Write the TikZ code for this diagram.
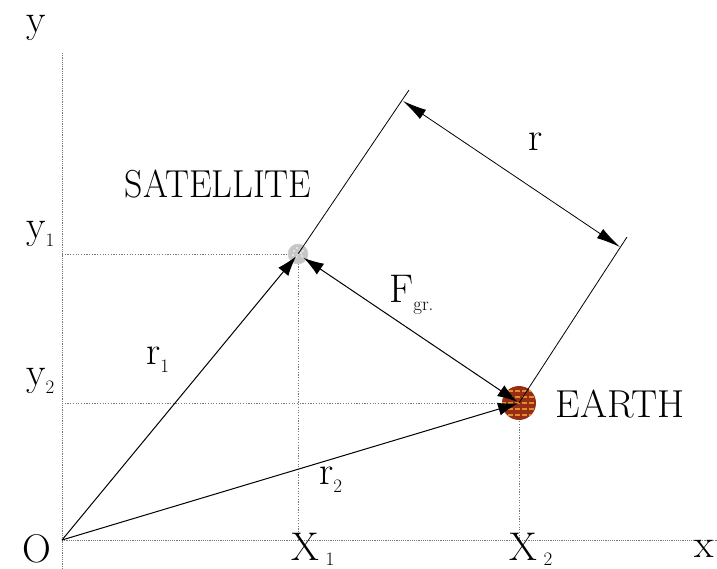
\documentclass[tikz,border=0pt]{standalone}
\usetikzlibrary{arrows.meta,calc}
\definecolor{earthred}{RGB}{150,45,20}
\definecolor{earthorange}{RGB}{225,140,45}
\definecolor{axisgray}{RGB}{120,120,120}
\newcommand{\mysub}[1]{{\fontsize{19}{19}\selectfont\raisebox{-8pt}{#1}}}
\newcommand{\mysubx}[1]{{\fontsize{19}{19}\selectfont\raisebox{-5pt}{#1}}}
\begin{document}
\begin{tikzpicture}[x=1pt,y=-1pt,
  axisline/.style={axisgray,line width=0.8pt,dash pattern=on 1.2pt off 1pt},
  guide/.style={axisgray,line width=0.7pt,dash pattern=on 1.2pt off 1.5pt},
  vec/.style={line width=1pt,-{Latex[length=20pt,width=13pt]}},
  dvec/.style={line width=1pt,{Latex[length=20pt,width=13pt]}-{Latex[length=20pt,width=13pt]}},
  dim/.style={line width=0.8pt,{Latex[length=24pt,width=11pt]}-{Latex[length=24pt,width=11pt]}},
  ext/.style={line width=0.8pt},
  lbl/.style={inner sep=0pt,font=\fontsize{40}{48}\selectfont},
  big/.style={inner sep=0pt,font=\fontsize{39}{46}\selectfont}]
\useasboundingbox (0,0) rectangle (717,569);
% key points
\coordinate (O) at (62,540);
\coordinate (S) at (298,254);
\coordinate (E) at (519,403);
\coordinate (Ytop) at (62,52);
\coordinate (Ybot) at (62,569);
\coordinate (Xend) at (717,540);
\coordinate (Sy) at (62,254);
\coordinate (Sx) at (298,540);
\coordinate (Ey) at (62,403);
\coordinate (Ex) at (519,540);
\coordinate (Stop) at (409,90);
\coordinate (Etop) at (627,237);
\coordinate (D1) at (403,101);
\coordinate (D2) at (620,247);
% axes
\draw[axisline] (Ybot) -- (Ytop);
\draw[axisline] (O) -- (Xend);
% guides
\draw[guide] (Sy) -- (S) -- (Sx);
\draw[guide] (Ey) -- (E) -- (Ex);
% bodies
\node[circle,minimum size=20pt,inner sep=0pt,fill=gray!45,draw=gray!35,line width=0.6pt] (sat) at (S) {};
\foreach \a/\b in {-4/-3,2/-4,4/2,-2/3,0/0,-5/1,3/-1,-1/-6,5/-3}
  \fill[white] ($(S)+(\a,\b)$) circle (0.9pt);
\node[circle,minimum size=34pt,inner sep=0pt,fill=earthred] (earth) at (E) {};
\begin{scope}
  \clip (E) circle (17pt);
  \foreach \dy in {-12,-6,0,6,12}
    \draw[earthorange,line width=1.2pt,dash pattern=on 5pt off 2pt] ($(E)+(-18,\dy)$) -- ($(E)+(18,\dy)$);
\end{scope}
% extension lines and dimension
\draw[ext] (S) -- (Stop);
\draw[ext] (E) -- (Etop);
\draw[dim] (D1) -- (D2);
% vectors
\draw[vec,shorten >=3pt] (O) -- (S);
\draw[vec,shorten >=1pt] (O) -- (E);
\draw[dvec,shorten <=7pt,shorten >=2pt] (S) -- (E);
% labels
\node[lbl] (ylab) at (36,28) {y};
\node[lbl] (olab) at (37,549) {O};
\node[lbl] (xlab) at (704,549) {x};
\node[lbl,anchor=west] (x1lab) at (291,549) {X\,\mysubx{1}};
\node[lbl,anchor=west] (x2lab) at (509,549) {X\,\mysubx{2}};
\node[lbl,anchor=west] (y1lab) at (26,234) {y\mysub{1}};
\node[lbl,anchor=west] (y2lab) at (26,381) {y\mysub{2}};
\node[lbl,anchor=west] (r1lab) at (146,360) {r\mysub{1}};
\node[lbl,anchor=west] (r2lab) at (319,480) {r\mysub{2}};
\node[lbl,anchor=west] (flab) at (389,295) {F\mysub{gr.}};
\node[lbl] (rlab) at (536,142) {r};
\node[big] (satlab) at (218,184) {\scalebox{0.92}[1]{SATELLITE}};
\node[big] (earthlab) at (620,404) {EARTH};
\end{tikzpicture}
\end{document}
